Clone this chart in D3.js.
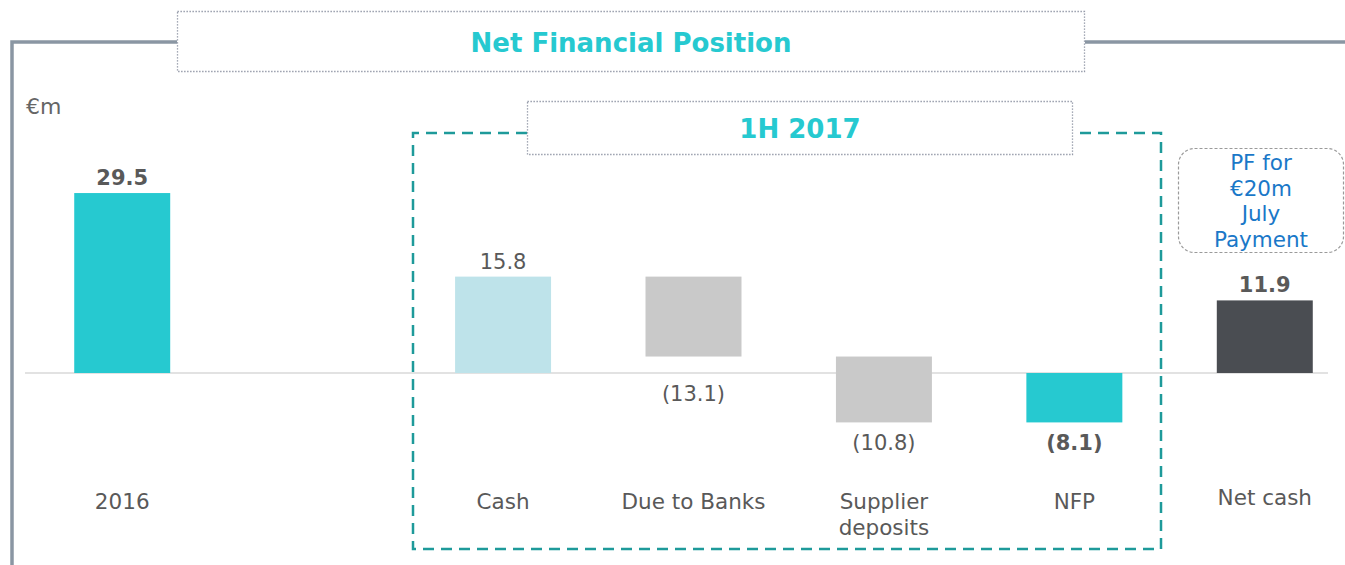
<!DOCTYPE html>
<html>
<head>
<meta charset="utf-8">
<script src="https://cdn.jsdelivr.net/npm/d3@7"></script>
<style>
  body { margin: 0; background: #fff; }
  svg { font-family: "DejaVu Sans", Verdana, sans-serif; }
</style>
</head>
<body>
<svg id="chart" width="1345" height="565"></svg>
<script>
// chart data
const categories = ["2016", "", "Cash", "Due to Banks", "Supplier deposits", "NFP", "Net cash"];
const values = [29.5, null, 15.8, -13.1, -10.8, -8.1, 11.9];
const kinds = ["total", "gap", "total", "delta", "delta", "total", "total"];
const valueLabels = ["29.5", "", "15.8", "(13.1)", "(10.8)", "(8.1)", "11.9"];
const boldLabel = [true, false, false, false, false, true, true];
const barColors = ["#26C9D0", null, "#BEE3EA", "#C9C9C9", "#C9C9C9", "#26C9D0", "#4A4D52"];
const pfNote = ["PF for", "€20m", "July", "Payment"];

const svg = d3.select("#chart");
const textColor = "#595959";

// build waterfall start/end
let running = 0;
const bars = categories.map((c, i) => {
  if (kinds[i] === "gap") return null;
  let y0, y1;
  if (kinds[i] === "total") { y0 = 0; y1 = values[i]; running = values[i]; }
  else { y0 = running; y1 = running + values[i]; running = y1; }
  return { i, cat: c, y0, y1, v: values[i] };
}).filter(d => d);

var x = d3.scaleBand()
  .domain(d3.range(categories.length))
  .range([27, 1360])
  .paddingInner(0.496)
  .paddingOuter(0.248);

var y = d3.scaleLinear()
  .domain([-20, 30])
  .range([495, 190]);

// frame line
svg.append("path")
  .attr("d", "M12,565 L12,42 L177,42 M1085,42 L1345,42")
  .attr("fill", "none")
  .attr("stroke", "#8A96A3")
  .attr("stroke-width", 3.5);

// title box
svg.append("rect")
  .attr("x", 177.5).attr("y", 11.5).attr("width", 907).attr("height", 60)
  .attr("fill", "#fff")
  .attr("stroke", "#8A90A0").attr("stroke-width", 1.3)
  .attr("stroke-dasharray", "1.3,1.7");
svg.append("text")
  .attr("x", 631).attr("y", 52)
  .attr("text-anchor", "middle")
  .attr("font-size", 26).attr("font-weight", "bold")
  .attr("fill", "#26C9D0")
  .text("Net Financial Position");

svg.append("text")
  .attr("x", 26).attr("y", 114)
  .attr("font-size", 22)
  .attr("fill", "#666")
  .text("€m");

// baseline
svg.append("line")
  .attr("x1", 25).attr("x2", 1328)
  .attr("y1", y(0)).attr("y2", y(0))
  .attr("stroke", "#D9D9D9").attr("stroke-width", 1.5);

// 1H 2017 dashed box
svg.append("path")
  .attr("d", "M527,133 L413,133 L413,549 L1161,549 L1161,133 L1073,133")
  .attr("fill", "none")
  .attr("stroke", "#1E9A9A").attr("stroke-width", 2.5)
  .attr("stroke-dasharray", "11,7");
svg.append("rect")
  .attr("x", 527.5).attr("y", 101.5).attr("width", 545).attr("height", 53)
  .attr("fill", "#fff")
  .attr("stroke", "#8A90A0").attr("stroke-width", 1.3)
  .attr("stroke-dasharray", "1.3,1.7");
svg.append("text")
  .attr("x", 800).attr("y", 138)
  .attr("text-anchor", "middle")
  .attr("font-size", 26).attr("font-weight", "bold")
  .attr("fill", "#26C9D0")
  .text("1H 2017");

// bars
svg.selectAll(".bar")
  .data(bars)
  .enter().append("rect")
  .attr("class", "bar")
  .attr("x", d => x(d.i))
  .attr("width", x.bandwidth())
  .attr("y", d => y(Math.max(d.y0, d.y1)))
  .attr("height", d => Math.abs(y(d.y0) - y(d.y1)))
  .attr("fill", d => barColors[d.i]);

// value labels (negatives sit below the bar or the zero line, whichever is lower)
svg.selectAll(".val")
  .data(bars)
  .enter().append("text")
  .attr("class", "val")
  .attr("x", d => x(d.i) + x.bandwidth() / 2)
  .attr("y", d => d.v >= 0 ? y(Math.max(d.y0, d.y1)) - 8 : y(Math.min(d.y0, d.y1, 0)) + 28)
  .attr("text-anchor", "middle")
  .attr("font-size", 21)
  .attr("font-weight", d => boldLabel[d.i] ? "bold" : "normal")
  .attr("fill", textColor)
  .text(d => valueLabels[d.i]);

// category labels
const catText = svg.selectAll(".cat")
  .data(bars)
  .enter().append("text")
  .attr("class", "cat")
  .attr("x", d => x(d.i) + x.bandwidth() / 2)
  .attr("y", d => d.cat === "Net cash" ? 505 : 509)
  .attr("text-anchor", "middle")
  .attr("font-size", 21.5)
  .attr("fill", textColor);
catText.each(function (d) {
  const words = d.cat === "Supplier deposits" ? ["Supplier", "deposits"] : [d.cat];
  d3.select(this).selectAll("tspan")
    .data(words)
    .enter().append("tspan")
    .attr("x", x(d.i) + x.bandwidth() / 2)
    .attr("dy", (w, k) => k === 0 ? 0 : 26)
    .text(w => w);
});

// PF note box
svg.append("rect")
  .attr("x", 1178.5).attr("y", 148.5).attr("width", 165).attr("height", 104)
  .attr("rx", 16)
  .attr("fill", "none")
  .attr("stroke", "#9A9A9A").attr("stroke-width", 1.2)
  .attr("stroke-dasharray", "3,2");
svg.append("text")
  .attr("text-anchor", "middle")
  .attr("font-size", 21.5)
  .attr("fill", "#1A78C8")
  .selectAll("tspan")
  .data(pfNote)
  .enter().append("tspan")
  .attr("x", 1261)
  .attr("y", (d, k) => 170 + k * 25.7)
  .text(d => d);
</script>
</body>
</html>
